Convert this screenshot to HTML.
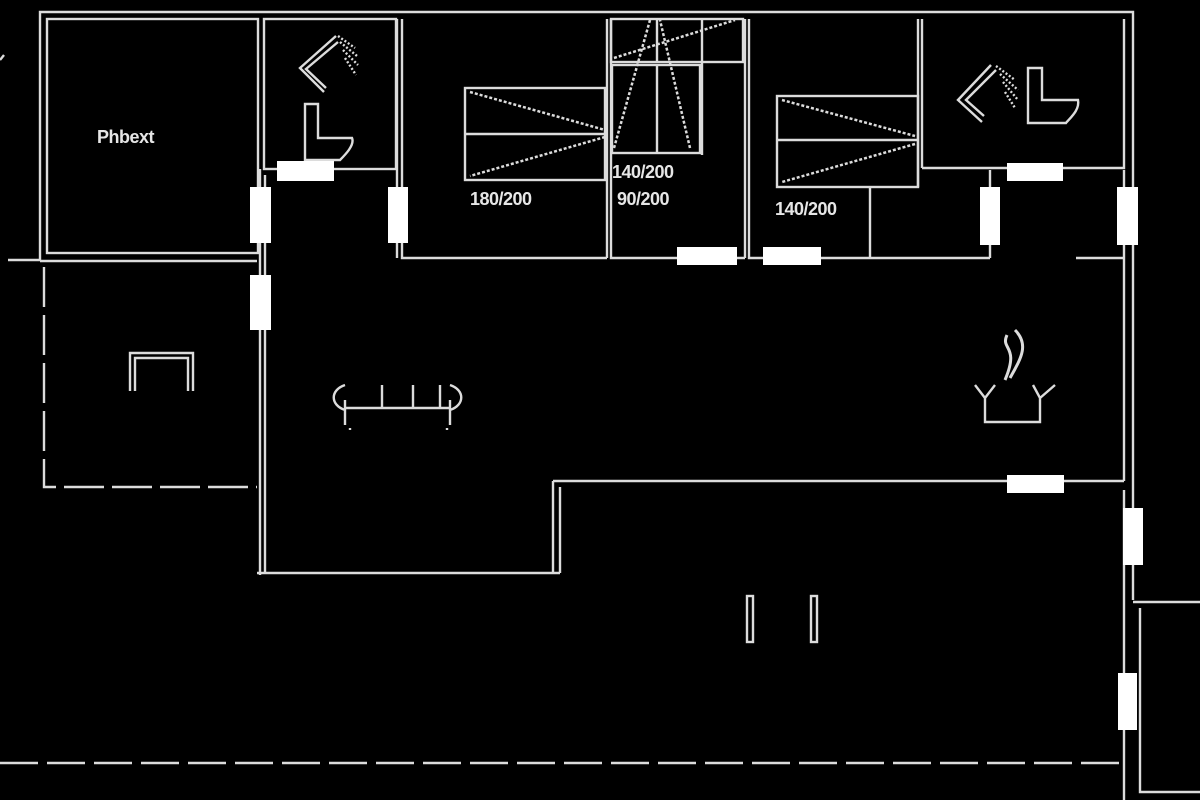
<!DOCTYPE html>
<html><head><meta charset="utf-8"><style>
html,body{margin:0;padding:0;background:#000;width:1200px;height:800px;overflow:hidden}
svg{display:block}
text{font-family:"Liberation Sans",sans-serif;fill:#e6e6e6;font-size:18px;font-weight:bold;letter-spacing:-0.5px}
</style></head><body>
<svg width="1200" height="800" viewBox="0 0 1200 800" xmlns="http://www.w3.org/2000/svg">
<g stroke="#dcdcdc" stroke-width="2.4" fill="none">
<path d="M40 260 V12 H1133 V170"/>
<path d="M8 260 H40"/>
<rect x="47" y="19" width="211" height="234"/>
<path d="M40 261 H257"/>
<rect x="264" y="19" width="132" height="150"/>
<path d="M260 169 V575 M265 175 V573"/>
<path d="M397 19 V258 M402 19 V258 H607 M607 19 V258 M611 19 V258 H745 M745 19 V258 M749 19 V258 H990"/>
<rect x="465" y="88" width="140" height="92"/>
<path d="M465 134 H605"/>
<path d="M470 92 L605 130 M605 137 L470 176" stroke-dasharray="3 2" stroke-width="2.5"/>
<rect x="611" y="19" width="132" height="43"/>
<path d="M657 19 V62 M702 19 V62"/>
<rect x="612" y="65" width="88" height="88"/>
<path d="M657 65 V153 M702 62 V155"/>
<path d="M614 148 L650 20 M690 148 L660 20 M614 58 L735 20" stroke-dasharray="3 2" stroke-width="2.5"/>
<rect x="777" y="96" width="141" height="91"/>
<path d="M777 140 H918 M918 19 V187 M922 19 V168 M870 187 V258"/>
<path d="M782 100 L915 136 M915 144 L782 182" stroke-dasharray="3 2" stroke-width="2.5"/>
<path d="M922 168 H1124 V19 M990 170 V258 M1076 258 H1124"/>
<path d="M1124 170 V481 M1133 170 V490 M1124 490 V800 M1133 490 V600 M1133 602 H1200 M1140 608 V792 H1200"/>
<path d="M553 481 H1124 M553 481 V573 M560 487 V573 M257 573 H560"/>
<path d="M44 267 V487 H257" stroke-dasharray="40 8"/>
<path d="M0 763 H1120" stroke-dasharray="38 9"/>
<rect x="747" y="596" width="6" height="46"/>
<rect x="811" y="596" width="6" height="46"/>
<path d="M130 391 V353 H193 V391 M135 391 V358 H188 V391"/>
<path d="M345 408 H450 M345 400 V425 M450 400 V425 M382 408 V385 M413 408 V385 M440 408 V385 M345 385 C330 390 330 405 345 410 M450 385 C465 390 465 405 450 410 M350 428 v2 M447 428 v2"/>
<path d="M985 398 V422 H1040 V398 M975 385 L985 398 L995 385 M1033 385 L1040 398 L1055 385"/>
<path d="M1007 335 C1000 350 1020 345 1005 380 M1015 330 C1030 345 1020 360 1010 378" stroke-width="3"/>
<path d="M336 36 L300 68 L324 92 M338 42 L306 69 L326 88"/>
<path d="M338 36 L355 48 M340 42 L357 56 M343 50 L358 65 M345 58 L356 75" stroke-dasharray="2 2"/>
<path d="M305 160 V104 H318 V138 H352 C355 145 345 155 340 160 Z"/>
<path d="M991 65 L958 100 L982 122 M996 70 L966 100 L984 116"/>
<path d="M996 66 L1015 80 M1000 74 L1018 90 M1003 82 L1018 100 M1005 92 L1015 108" stroke-dasharray="2 2"/>
<path d="M1028 123 V68 H1042 V100 H1078 C1080 110 1070 118 1066 123 Z"/>
<path d="M0 60 L4 55"/>
</g>
<g fill="#fff">
<rect x="277" y="161" width="57" height="20"/>
<rect x="250" y="187" width="21" height="56"/>
<rect x="250" y="275" width="21" height="55"/>
<rect x="388" y="187" width="20" height="56"/>
<rect x="677" y="247" width="60" height="18"/>
<rect x="763" y="247" width="58" height="18"/>
<rect x="1007" y="163" width="56" height="18"/>
<rect x="980" y="187" width="20" height="58"/>
<rect x="1117" y="187" width="21" height="58"/>
<rect x="1007" y="475" width="57" height="18"/>
<rect x="1123" y="508" width="20" height="57"/>
<rect x="1118" y="673" width="19" height="57"/>
</g>
<text x="97" y="143" font-size="19">Phbext</text>
<text x="470" y="205">180/200</text>
<text x="612" y="178">140/200</text>
<text x="617" y="205">90/200</text>
<text x="775" y="215">140/200</text>
</svg>
</body></html>
